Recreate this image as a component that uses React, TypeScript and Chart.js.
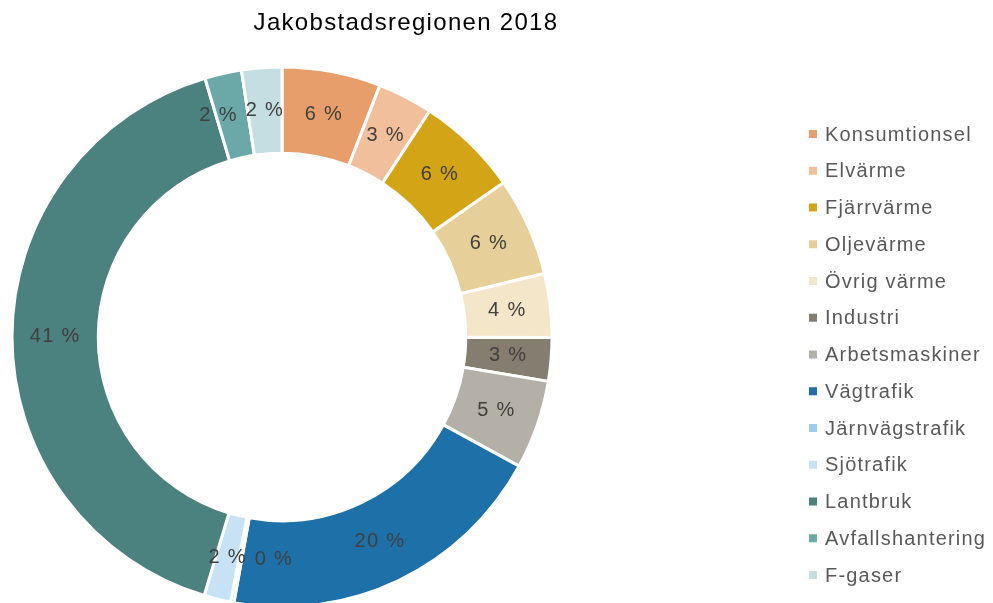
import React, { useEffect, useRef } from "react";
import { Chart, registerables } from "chart.js";

Chart.register(...registerables);

const titleText = "Jakobstadsregionen 2018";
const categories = [
  "Konsumtionsel",
  "Elvärme",
  "Fjärrvärme",
  "Oljevärme",
  "Övrig värme",
  "Industri",
  "Arbetsmaskiner",
  "Vägtrafik",
  "Järnvägstrafik",
  "Sjötrafik",
  "Lantbruk",
  "Avfallshantering",
  "F-gaser",
];
const shares = [5.9, 3.3, 6.1, 5.9, 3.8, 2.6, 5.3, 19.9, 0.2, 1.6, 40.7, 2.2, 2.4];
const colors = [
  "#E89E6A",
  "#F1BF9B",
  "#D4A417",
  "#E6CF98",
  "#F3E6C9",
  "#857D70",
  "#B4AFA7",
  "#1E70A9",
  "#9DCDEC",
  "#C6E2F4",
  "#4B817E",
  "#6BA9A9",
  "#C4DEE1",
];

const FONT = "'Liberation Sans', Arial, sans-serif";

const customDraw = {
  id: "customDraw",
  afterDatasetsDraw(chart: any) {
    const ctx = chart.ctx;
    const meta = chart.getDatasetMeta(0);
    const data = chart.data.datasets[0].data as number[];
    const total = data.reduce((a, b) => a + b, 0);
    ctx.save();
    // data labels
    ctx.font = `20px ${FONT}`;
    (ctx as any).letterSpacing = "1.3px";
    ctx.fillStyle = "#404040";
    ctx.textAlign = "center";
    ctx.textBaseline = "middle";
    const labels = meta.data.map((arc: any, i: number) => {
      const { x, y, startAngle, endAngle, innerRadius, outerRadius } = arc.getProps(
        ["x", "y", "startAngle", "endAngle", "innerRadius", "outerRadius"],
        true
      );
      const mid = (startAngle + endAngle) / 2;
      const r = (innerRadius + outerRadius) / 2;
      const text = `${Math.round((data[i] / total) * 100)} %`;
      return {
        text,
        x: x + Math.cos(mid) * r,
        y: y + Math.sin(mid) * r,
        w: ctx.measureText(text).width,
        v: data[i],
      };
    });
    // simple overlap avoidance between neighbouring labels
    for (let i = 0; i < labels.length; i++) {
      const a = labels[i];
      const b = labels[(i + 1) % labels.length];
      const need = (a.w + b.w) / 2 + 8;
      if (Math.abs(a.x - b.x) < need && Math.abs(a.y - b.y) < 20) {
        const small = a.v < b.v ? a : b;
        const big = small === a ? b : a;
        const dir = small.x >= big.x ? 1 : -1;
        small.x = big.x + dir * need;
      }
    }
    labels.forEach((l: any) => ctx.fillText(l.text, l.x, l.y));
    // title
    ctx.font = `24px ${FONT}`;
    (ctx as any).letterSpacing = "1.3px";
    ctx.fillStyle = "#000000";
    ctx.fillText(titleText, 398, 15);
    // legend
    ctx.font = `20px ${FONT}`;
    (ctx as any).letterSpacing = "1.2px";
    ctx.textAlign = "left";
    categories.forEach((c, i) => {
      const cy = 126 + i * 36.75;
      ctx.fillStyle = colors[i];
      ctx.fillRect(801, cy - 4, 8, 8);
      ctx.fillStyle = "#595959";
      ctx.fillText(c, 817, cy + 1);
    });
    ctx.restore();
  },
};

export default function App() {
  const ref = useRef<HTMLCanvasElement>(null);
  useEffect(() => {
    if (!ref.current) return;
    const chart = new Chart(ref.current, {
      type: "doughnut",
      data: {
        labels: categories,
        datasets: [
          {
            data: shares,
            backgroundColor: colors,
            borderColor: "#ffffff",
            borderWidth: 3,
          },
        ],
      },
      options: {
        responsive: false,
        animation: false,
        radius: 270,
        cutout: 180,
        layout: { padding: { top: 63, bottom: 0, left: 0, right: 429 } },
        plugins: {
          legend: { display: false },
          title: { display: false },
          tooltip: { enabled: false },
        },
      } as any,
      plugins: [customDraw],
    });
    return () => chart.destroy();
  }, []);
  return (
    <div style={{ width: 977, height: 595, overflow: "hidden" }}>
      <canvas ref={ref} width={977} height={595} style={{ display: "block" }} />
    </div>
  );
}
